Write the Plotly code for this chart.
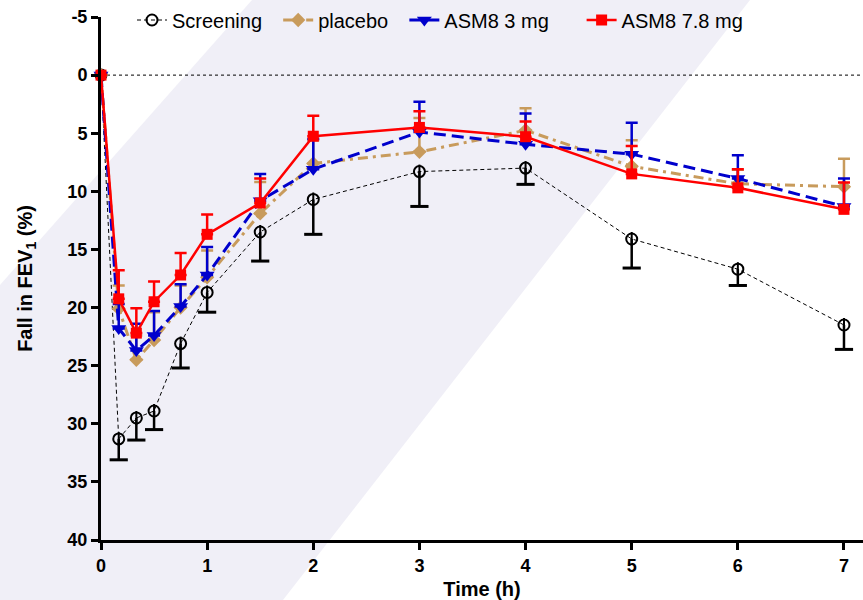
import plotly.graph_objects as go

# ---- data ----
time_h = [0, 0.167, 0.333, 0.5, 0.75, 1, 1.5, 2, 3, 4, 5, 6, 7]

screening = [0, 31.3, 29.5, 28.9, 23.1, 18.7, 13.5, 10.7, 8.3, 8.0, 14.1, 16.7, 21.5]
screening_err = [0, 1.8, 1.9, 1.6, 2.1, 1.7, 2.5, 3.0, 3.0, 1.4, 2.5, 1.4, 2.1]

placebo = [0, 20.1, 24.5, 22.8, 20.0, 17.4, 11.9, 7.6, 6.6, 4.75, 7.85, 9.35, 9.6]
placebo_err = [0, 2.0, 2.1, 2.4, 1.9, 2.3, 2.7, 2.0, 2.9, 1.9, 2.25, 1.2, 2.4]

asm8_3 = [0, 21.8, 23.7, 22.4, 19.9, 17.2, 10.8, 8.1, 4.9, 5.95, 6.8, 8.9, 11.3]
asm8_3_err = [0, 2.1, 2.3, 2.1, 1.9, 2.4, 2.3, 2.6, 2.6, 2.65, 2.7, 2.0, 2.4]

asm8_78 = [0, 19.25, 22.2, 19.5, 17.2, 13.7, 11.0, 5.26, 4.5, 5.3, 8.5, 9.7, 11.55]
asm8_78_err = [0, 2.45, 2.15, 1.75, 1.9, 1.7, 2.1, 1.76, 1.4, 1.3, 2.4, 1.6, 2.3]

series_names = ["Screening", "placebo", "ASM8 3 mg", "ASM8 7.8 mg"]
y_tickvals = [-5, 0, 5, 10, 15, 20, 25, 30, 35, 40]
y_ticktext = ["-5", "0", "5", "10", "15", "20", "25", "30", "35", "40"]
x_tickvals = [0, 1, 2, 3, 4, 5, 6, 7]

FONT = "Liberation Sans, Arial, sans-serif"
NB = "\u00a0"

fig = go.Figure()

# --- Screening error bars (downward only), built from the data ---
stem_x, stem_y, cap_x, cap_y = [], [], [], []
for t, v, e in zip(time_h, screening, screening_err):
    if e > 0:
        stem_x += [t, t, None]
        stem_y += [v, v + e, None]
        cap_x.append(t)
        cap_y.append(v + e)
fig.add_trace(go.Scatter(x=stem_x, y=stem_y, mode="lines",
                         line=dict(color="black", width=2.5),
                         showlegend=False, hoverinfo="skip", cliponaxis=False))
fig.add_trace(go.Scatter(x=cap_x, y=cap_y, mode="markers",
                         marker=dict(symbol="line-ew-open", size=13, color="black",
                                     line=dict(color="black", width=3)),
                         showlegend=False, hoverinfo="skip", cliponaxis=False))

fig.add_trace(go.Scatter(
    x=time_h, y=screening, mode="lines+markers",
    name=series_names[0] + NB * 2,
    line=dict(color="black", width=1, dash="4px,3px"),
    marker=dict(symbol="circle-open", size=11, color="black",
                line=dict(color="black", width=2)),
    cliponaxis=False))
fig.add_trace(go.Scatter(
    x=time_h[1:], y=screening[1:], mode="markers",
    marker=dict(symbol="line-ns-open", size=10, color="black",
                line=dict(color="black", width=2)),
    showlegend=False, hoverinfo="skip", cliponaxis=False))

def err_up(vals):
    return [0 for _ in vals]

fig.add_trace(go.Scatter(
    x=time_h, y=placebo, mode="lines+markers",
    name=series_names[1] + NB * 2,
    line=dict(color="#C89B5C", width=3, dash="10px,5px,3px,5px"),
    marker=dict(symbol="diamond", size=11, color="#C89B5C"),
    error_y=dict(type="data", symmetric=False, array=err_up(placebo),
                 arrayminus=placebo_err, color="#C89B5C", thickness=2.5, width=6),
    cliponaxis=False))

fig.add_trace(go.Scatter(
    x=time_h, y=asm8_3, mode="lines+markers",
    name=series_names[2] + NB * 5,
    line=dict(color="#0000CC", width=3, dash="12px,6px"),
    marker=dict(symbol="triangle-down", size=13, color="#0000CC"),
    error_y=dict(type="data", symmetric=False, array=err_up(asm8_3),
                 arrayminus=asm8_3_err, color="#0000CC", thickness=2.5, width=6),
    cliponaxis=False))

fig.add_trace(go.Scatter(
    x=time_h, y=asm8_78, mode="lines+markers",
    name=series_names[3],
    line=dict(color="#FF0000", width=2.5),
    marker=dict(symbol="square", size=11, color="#FF0000"),
    error_y=dict(type="data", symmetric=False, array=err_up(asm8_78),
                 arrayminus=asm8_78_err, color="#FF0000", thickness=2.5, width=6),
    cliponaxis=False))

# Background decoration (light lavender page with white diagonal areas)
L, T, PW, PH = 101, 17, 762, 523
def px(xp):
    return (xp - L) / PW
def py(yp):
    return (T + PH - yp) / PH

shapes = [
    dict(type="path", xref="paper", yref="paper", layer="below",
         path=f"M{px(750)},{py(0)} L{px(863)},{py(0)} L{px(863)},{py(600)} L{px(283)},{py(600)} Z",
         fillcolor="white", line=dict(width=0)),
    dict(type="path", xref="paper", yref="paper", layer="below",
         path=f"M{px(0)},{py(0)} L{px(252)},{py(0)} L{px(0)},{py(285)} Z",
         fillcolor="white", line=dict(width=0)),
    dict(type="line", xref="paper", yref="y", x0=0, x1=1, y0=0, y1=0,
         layer="below", line=dict(color="black", width=1, dash="dot")),
]

fig.update_layout(
    width=863, height=600,
    margin=dict(l=L, r=0, t=T, b=60),
    paper_bgcolor="#F0EFF7",
    plot_bgcolor="rgba(0,0,0,0)",
    font=dict(family=FONT, color="black"),
    shapes=shapes,
    showlegend=True,
    legend=dict(orientation="h", x=px(132), xanchor="left",
                y=py(20), yanchor="middle",
                bgcolor="rgba(0,0,0,0)", borderwidth=0,
                font=dict(family=FONT, size=20, color="black"),
                tracegroupgap=0),
    xaxis=dict(range=[0, 762 / 106.14], tickvals=x_tickvals,
               ticks="outside", ticklen=7, tickwidth=3, tickcolor="black",
               showline=True, linewidth=3, linecolor="black",
               showgrid=False, zeroline=False,
               tickfont=dict(family=FONT, size=18, weight="bold"),
               title=dict(text="<b>Time (h)</b>", font=dict(family=FONT, size=20),
                          standoff=8)),
    yaxis=dict(range=[40, -5], tickvals=y_tickvals, ticktext=y_ticktext,
               ticks="outside", ticklen=7, tickwidth=3, tickcolor="black",
               showline=True, linewidth=3, linecolor="black",
               showgrid=False, zeroline=False,
               tickfont=dict(family=FONT, size=18, weight="bold"),
               title=dict(text="<b>Fall in FEV<sub>1</sub> (%)</b>",
                          font=dict(family=FONT, size=20), standoff=30)),
)

fig.write_html("out.html",
               config={"displayModeBar": False},
               post_script="document.body.style.margin='0';document.body.style.background='#F0EFF7';")
